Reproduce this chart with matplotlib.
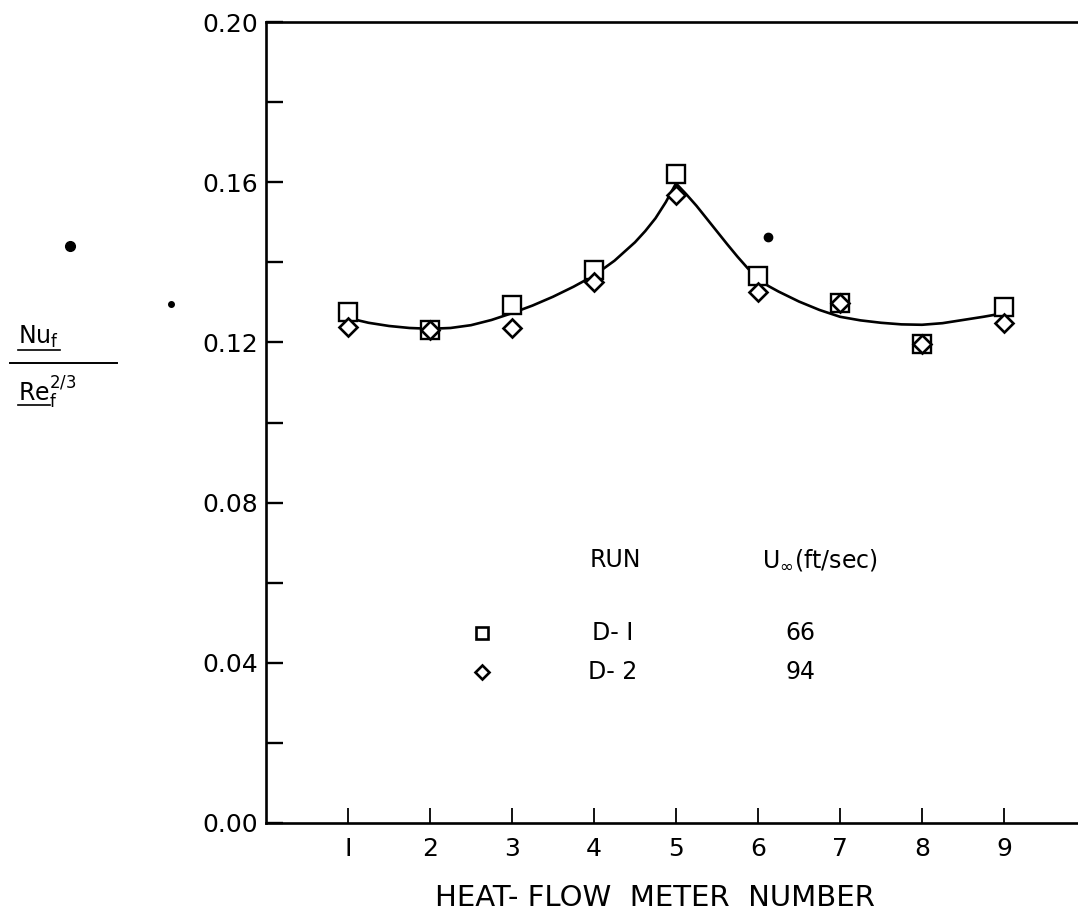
import numpy as np
import matplotlib
matplotlib.use('Agg')
import matplotlib.pyplot as plt
from matplotlib.lines import Line2D
from matplotlib.ticker import MultipleLocator

# %% data
meter = [1, 2, 3, 4, 5, 6, 7, 8, 9]
run_d1 = [0.1276, 0.1232, 0.1293, 0.1381, 0.1621, 0.1366, 0.1298, 0.1195, 0.1288]
run_d2 = [0.1239, 0.1232, 0.1236, 0.1351, 0.1568, 0.1326, 0.1298, 0.1195, 0.1249]

# faired curve drawn through the data
curve_x = [1.0, 1.25, 1.5, 1.75, 2.0, 2.25, 2.5, 2.75, 3.0, 3.25, 3.5, 3.75, 4.0,
           4.25, 4.5, 4.625, 4.75, 4.875, 5.0, 5.125, 5.25, 5.375, 5.5, 5.625, 5.75,
           5.875, 6.0, 6.125, 6.25, 6.5, 6.75, 7.0, 7.25, 7.5, 7.75, 8.0, 8.25,
           8.5, 8.75, 9.0]
curve_y = [0.1261, 0.1249, 0.1241, 0.1236, 0.1234, 0.1236, 0.1243, 0.1256, 0.1273,
           0.1292, 0.1314, 0.1339, 0.1367, 0.1404, 0.1450, 0.1478, 0.1510, 0.1550,
           0.1597, 0.1570, 0.1541, 0.1509, 0.1477, 0.1445, 0.1414, 0.1385, 0.1359,
           0.1341, 0.1327, 0.1302, 0.1281, 0.1264, 0.1255, 0.1249, 0.1245, 0.1244,
           0.1248, 0.1256, 0.1264, 0.1273]

legend_runs = ['D- I', 'D- 2']
legend_speeds = ['66', '94']

# stray specks of the scanned original
speck_x = [-2.39, -1.16, 6.12]
speck_y = [0.1441, 0.1296, 0.1463]
speck_size = [7, 4, 6]

# %% figure
W, H = 1078, 915
fig = plt.figure(figsize=(W / 100, H / 100), dpi=100)
ax = fig.add_axes([266 / W, 92 / H, 820 / W, 801 / H])

lw = 1.9
ax.plot(curve_x, curve_y, color='black', lw=lw, zorder=2)
ax.plot(meter, run_d1, ls='none', marker='s', ms=12.5, mfc='white', mec='black', mew=1.7, zorder=3)
ax.plot(meter, run_d2, ls='none', marker='D', ms=9, mfc='white', mec='black', mew=1.9, zorder=3)
for sx, sy, ss in zip(speck_x, speck_y, speck_size):
    ax.plot(sx, sy, marker='o', ms=ss, color='black', clip_on=False, ls='none')

ax.set_xlim(0, 10)
ax.set_ylim(0, 0.20)
ax.set_xticks(meter)
ax.set_xticklabels(['I', '2', '3', '4', '5', '6', '7', '8', '9'])
ax.yaxis.set_major_locator(MultipleLocator(0.04))
ax.yaxis.set_minor_locator(MultipleLocator(0.02))
ax.yaxis.set_major_formatter(plt.FuncFormatter(lambda v, p: f'{v:.2f}'))

for s in ax.spines.values():
    s.set_linewidth(1.9)
ax.tick_params(axis='y', which='both', direction='in', length=12, width=1.7,
               labelsize=18, pad=6, right=False)
ax.tick_params(axis='x', direction='in', length=11, width=1.3, labelsize=18, pad=10,
               top=False)

ax.set_xlabel('HEAT- FLOW  METER  NUMBER', fontsize=21, va='center')
ax.xaxis.set_label_coords((655 - 266) / 820, (823 - 898) / 801)

# legend block
head_y = 0.0657
ax.text(4.26, head_y, 'RUN', fontsize=17, ha='center', va='center')
ax.text(6.05, head_y, r'U$_\infty$(ft/sec)', fontsize=17, ha='left', va='center')
leg_y = [0.0474, 0.0377]
ax.plot(2.63, leg_y[0], marker='s', ms=8.5, mfc='white', mec='black', mew=1.9, ls='none')
ax.plot(2.63, leg_y[1], marker='D', ms=7, mfc='white', mec='black', mew=1.9, ls='none')
for yy, r, sp in zip(leg_y, legend_runs, legend_speeds):
    ax.text(4.23, yy, r, fontsize=17, ha='center', va='center')
    ax.text(6.52, yy, sp, fontsize=17, ha='center', va='center')

# ordinate label as a written fraction
fig.text(18 / W, 1 - 337 / H, r'Nu$_\mathregular{f}$', fontsize=17, ha='left', va='center')
fig.text(18 / W, 1 - 392 / H, r'Re$_\mathregular{f}^\mathregular{2/3}$', fontsize=17,
         ha='left', va='center')
fig.add_artist(Line2D([10 / W, 117 / W], [1 - 363 / H, 1 - 363 / H], color='black', lw=1.4))
fig.add_artist(Line2D([18 / W, 60 / W], [1 - 350 / H, 1 - 350 / H], color='black', lw=1.2))
fig.add_artist(Line2D([18 / W, 50 / W], [1 - 405 / H, 1 - 405 / H], color='black', lw=1.2))

fig.savefig('out.png', dpi=100)
plt.close(fig)
